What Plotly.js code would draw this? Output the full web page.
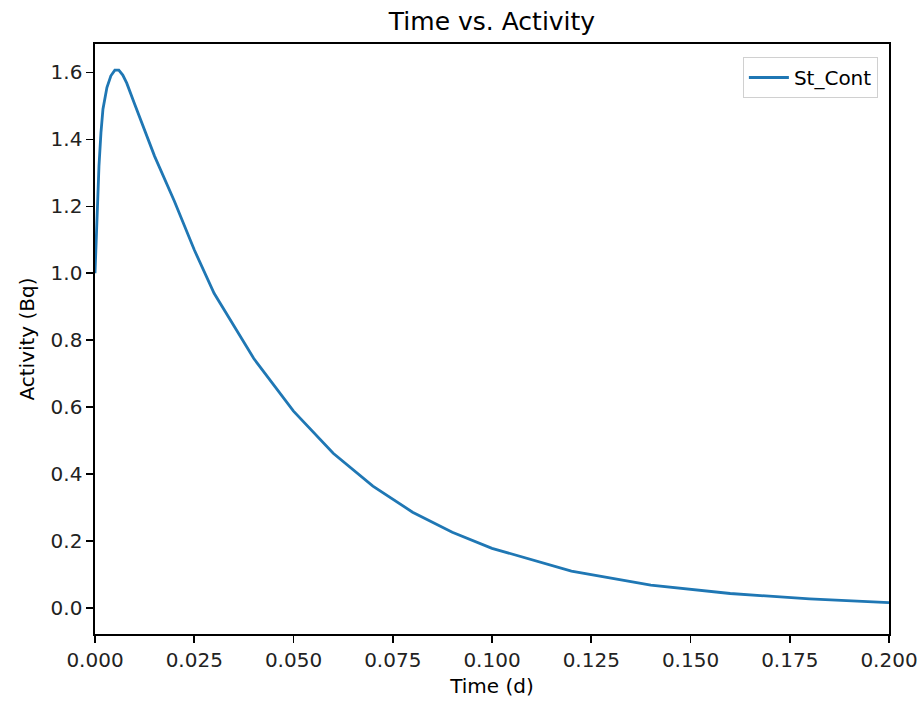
<!DOCTYPE html>
<html>
<head>
<meta charset="utf-8">
<script src="https://cdn.plot.ly/plotly-3.0.1.min.js"></script>
<style>html,body{margin:0;padding:0;background:#fff;}#chart{width:922px;height:708px;}</style>
</head>
<body>
<div id="chart"></div>
<script>
const seriesName = "St_Cont";
const timeDays = [0, 0.0005, 0.001, 0.0015, 0.002, 0.003, 0.004, 0.005, 0.006, 0.007, 0.008, 0.01, 0.0125, 0.015, 0.02, 0.025, 0.03, 0.04, 0.05, 0.06, 0.07, 0.08, 0.09, 0.1, 0.12, 0.14, 0.16, 0.18, 0.2];
const activityBq = [1.0, 1.17, 1.32, 1.42, 1.49, 1.555, 1.59, 1.607, 1.607, 1.592, 1.568, 1.505, 1.425, 1.35, 1.215, 1.07, 0.94, 0.745, 0.588, 0.462, 0.364, 0.286, 0.226, 0.178, 0.11, 0.068, 0.043, 0.027, 0.016];
const xTickVals = [0, 0.025, 0.05, 0.075, 0.1, 0.125, 0.15, 0.175, 0.2];
const yTickVals = [0, 0.2, 0.4, 0.6, 0.8, 1.0, 1.2, 1.4, 1.6];

const font = "DejaVu Sans, sans-serif";
const trace = {
  x: timeDays, y: activityBq, type: 'scatter', mode: 'lines', name: seriesName,
  line: {color: '#1f77b4', width: 2.8}
};
const axisCommon = {
  showline: true, mirror: true, linecolor: '#000', linewidth: 1.6,
  ticks: 'outside', ticklen: 7, tickwidth: 1.6, tickcolor: '#000',
  showgrid: false, zeroline: false, automargin: false,
  tickfont: {family: font, size: 20, color: '#222'}
};
const layout = {
  width: 922, height: 708,
  margin: {l: 95, r: 33, t: 44, b: 74},
  paper_bgcolor: '#fff', plot_bgcolor: '#fff',
  title: {text: 'Time vs. Activity', font: {family: font, size: 25, color: '#000'},
          x: 0.5, xref: 'paper', y: 1 - 21/708, yref: 'container', yanchor: 'middle'},
  xaxis: Object.assign({}, axisCommon, {
    range: [0, 0.2], tickvals: xTickVals, tickformat: '.3f',
    title: {text: 'Time (d)', font: {family: font, size: 20, color: '#000'}, standoff: 8}
  }),
  yaxis: Object.assign({}, axisCommon, {
    range: [-0.078, 1.685], tickvals: yTickVals, tickformat: '.1f',
    title: {text: 'Activity (Bq)', font: {family: font, size: 20, color: '#000'}, standoff: 10}
  }),
  showlegend: true,
  legend: {x: 0.986, xanchor: 'right', y: 0.978, yanchor: 'top', itemwidth: 40,
           bgcolor: 'rgba(255,255,255,0.8)', bordercolor: '#d0d0d0', borderwidth: 1,
           font: {family: font, size: 20, color: '#000'}}
};
Plotly.newPlot('chart', [trace], layout, {displayModeBar: false, staticPlot: true});
</script>
</body>
</html>
